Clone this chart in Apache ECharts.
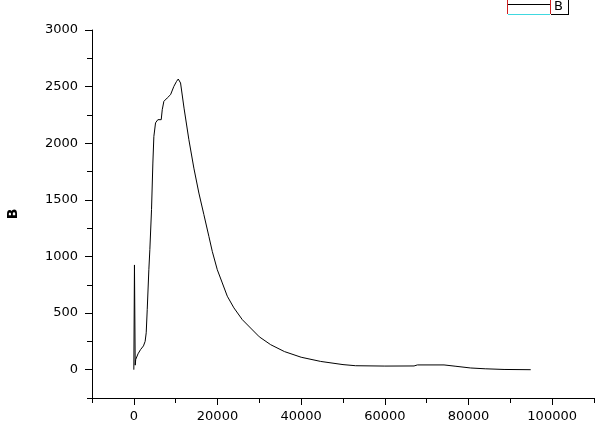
<!DOCTYPE html>
<html>
<head>
<meta charset="utf-8">
<script src="https://cdn.jsdelivr.net/npm/echarts@6.0.0/dist/echarts.min.js"></script>
<style>
  html, body { margin: 0; padding: 0; background: #fff; }
  #chart { width: 612px; height: 440px; }
</style>
</head>
<body>
<div id="chart"></div>
<script>
// values
const xValues = [
  0, 150, 260, 330, 450, 1000, 1600, 2300, 2700, 2960, 3200, 3590, 3830, 4230,
  4550, 4790, 5190, 5740, 6550, 6790, 7180, 7990, 8780, 9570, 10210, 10620,
  11170, 12000, 13160, 14350, 15550, 16740, 17940, 18750, 19950, 21150, 22340,
  23920, 25930, 27910, 30000, 32700, 36000, 40000, 44660, 50000, 53020, 60000,
  66980, 67790, 74150, 77000, 80530, 84000, 88500, 94870
]
const yValues = [
  0, 925, 925, 40, 90, 140, 177, 210, 250, 326, 530, 883, 1060, 1413,
  1825, 2060, 2180, 2208, 2208, 2296, 2370, 2400, 2429, 2502, 2546, 2567,
  2532, 2310, 2031, 1780, 1560, 1370, 1177, 1045, 883, 766, 649,
  546, 442, 368, 290, 221, 160, 110, 73, 45, 35, 32,
  33, 42, 42, 30, 15, 8, 2, 0
]
const xTicks = [0, 20000, 40000, 60000, 80000, 100000]
const yTicks = [0, 500, 1000, 1500, 2000, 2500, 3000]
const seriesName = 'B'

const font = 'DejaVu Sans'
const black = '#000'

const grid = { left: 92, right: 18, top: 30, bottom: 42, outerBoundsMode: 'none', containLabel: false }

const mainAxisStyle = {
  axisLine: { show: true, onZero: false, lineStyle: { color: black, width: 1 } },
  splitLine: { show: false },
}

const minorAxisStyle = {
  axisLine: { show: false, onZero: false },
  axisLabel: { show: false },
  splitLine: { show: false },
  axisTick: { show: true, inside: false, length: 5, lineStyle: { color: black } },
}

const plainNumber = (v) => String(v)

const option = {
  animation: false,
  backgroundColor: '#fff',
  grid,
  xAxis: [
    {
      type: 'value',
      min: -10000,
      max: 110000,
      position: 'bottom',
      ...mainAxisStyle,
      axisTick: { show: true, length: 7, customValues: xTicks, lineStyle: { color: black } },
      axisLabel: {
        customValues: xTicks,
        formatter: plainNumber,
        margin: 12,
        color: black,
        fontFamily: font,
        fontSize: 13,
      },
    },
    {
      type: 'value',
      min: -10000,
      max: 110000,
      interval: 10000,
      position: 'bottom',
      ...minorAxisStyle,
    },
  ],
  yAxis: [
    {
      type: 'value',
      min: -250,
      max: 3000,
      position: 'left',
      name: seriesName,
      nameLocation: 'middle',
      nameGap: 72,
      nameTextStyle: { color: black, fontFamily: font, fontSize: 14, fontWeight: 'bold' },
      ...mainAxisStyle,
      axisTick: { show: true, length: 7, customValues: yTicks, lineStyle: { color: black } },
      axisLabel: {
        customValues: yTicks,
        formatter: plainNumber,
        margin: 14,
        color: black,
        fontFamily: font,
        fontSize: 13,
      },
    },
    {
      type: 'value',
      min: -250,
      max: 3000,
      interval: 250,
      position: 'left',
      ...minorAxisStyle,
    },
  ],
  series: [
    {
      name: seriesName,
      type: 'line',
      xAxisIndex: 0,
      yAxisIndex: 0,
      symbol: 'none',
      smooth: false,
      lineStyle: { color: black, width: 1 },
      emphasis: { disabled: true },
      data: xValues.map((x, i) => [x, yValues[i]]),
    },
  ],
  // clipped legend box in the top right corner
  graphic: [
    { type: 'line', shape: { x1: 507.5, y1: 0, x2: 507.5, y2: 14 }, style: { stroke: '#d02020', lineWidth: 1 } },
    { type: 'line', shape: { x1: 550.5, y1: 0, x2: 550.5, y2: 14 }, style: { stroke: '#d02020', lineWidth: 1 } },
    { type: 'line', shape: { x1: 508, y1: 4.5, x2: 550, y2: 4.5 }, style: { stroke: black, lineWidth: 1 } },
    { type: 'line', shape: { x1: 508, y1: 14.5, x2: 550, y2: 14.5 }, style: { stroke: '#40d8e0', lineWidth: 1 } },
    { type: 'line', shape: { x1: 551, y1: 14.5, x2: 569, y2: 14.5 }, style: { stroke: black, lineWidth: 1 } },
    { type: 'line', shape: { x1: 568.5, y1: 0, x2: 568.5, y2: 15 }, style: { stroke: black, lineWidth: 1 } },
    {
      type: 'text',
      left: 554,
      top: 0,
      style: { text: seriesName, fill: black, font: '13px "DejaVu Sans"' },
    },
  ],
}

const myChart = echarts.init(document.getElementById('chart'), null, { renderer: 'canvas' })
myChart.setOption(option)
</script>
</body>
</html>
